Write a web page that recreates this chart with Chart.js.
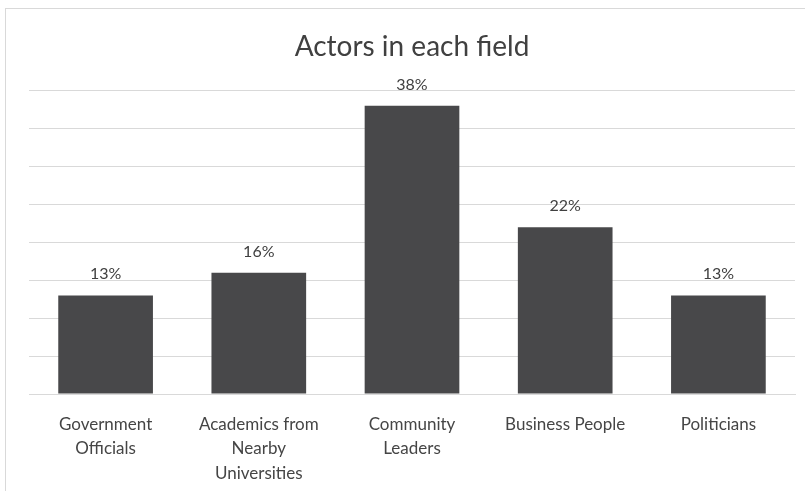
<!DOCTYPE html>
<html>
<head>
<meta charset="utf-8">
<script src="https://cdn.jsdelivr.net/npm/chart.js@4.4.1/dist/chart.umd.min.js"></script>
<style>
  body { margin: 0; background: #fff; }
  #frame {
    position: absolute; left: 5px; top: 8px; width: 900px; height: 600px;
    border-left: 1px solid #d9d9d9; border-top: 1px solid #d9d9d9;
  }
  #wrap { position: absolute; left: 0; top: 0; width: 805px; height: 491px; }
</style>
</head>
<body>
<div id="frame"></div>
<div id="wrap"><canvas id="myChart"></canvas></div>
<script>
// categories and shares (percent)
const fields = [
  ["Government", "Officials"],
  ["Academics from", "Nearby", "Universities"],
  ["Community", "Leaders"],
  "Business People",
  "Politicians"
];
const shares = [13, 16, 38, 22, 13];
const yTicks = [0, 5, 10, 15, 20, 25, 30, 35, 40];

const fontFam = "Lato, 'Open Sans', sans-serif";

// writes "NN%" above each bar
const valueLabels = {
  id: 'valueLabels',
  afterDatasetsDraw(chart) {
    const ctx = chart.ctx;
    const meta = chart.getDatasetMeta(0);
    ctx.save();
    ctx.font = '16px ' + fontFam;
    ctx.fillStyle = '#404040';
    ctx.textAlign = 'center';
    ctx.textBaseline = 'alphabetic';
    meta.data.forEach((bar, i) => {
      ctx.fillText(shares[i] + '%', bar.x, bar.y - 16);
    });
    ctx.restore();
  }
};

const ctx = document.getElementById('myChart');
new Chart(ctx, {
  type: 'bar',
  data: {
    labels: fields,
    datasets: [{
      data: shares,
      backgroundColor: '#48484a',
      borderWidth: 0,
      categoryPercentage: 0.618,
      barPercentage: 1
    }]
  },
  options: {
    responsive: true,
    maintainAspectRatio: false,
    animation: false,
    layout: { padding: { left: 29, right: 10, top: 0, bottom: 0 } },
    plugins: {
      legend: { display: false },
      tooltip: { enabled: false },
      title: {
        display: true,
        text: 'Actors in each field',
        color: '#404040',
        font: { family: fontFam, size: 28, weight: '400', lineHeight: 1.2 },
        padding: { top: 30, bottom: 27 }
      }
    },
    scales: {
      x: {
        grid: { display: false },
        border: { color: '#d9d9d9', width: 1 },
        ticks: {
          color: '#454545',
          font: { family: fontFam, size: 17, lineHeight: 1.45 },
          maxRotation: 0,
          autoSkip: false,
          padding: 10
        },
        afterFit(scale) { scale.height = 97; }
      },
      y: {
        min: yTicks[0],
        max: yTicks[yTicks.length - 1],
        afterBuildTicks(scale) { scale.ticks = yTicks.map(v => ({ value: v })); },
        grid: { color: '#d9d9d9', drawTicks: false },
        border: { display: false },
        ticks: { display: false },
        afterFit(scale) { scale.width = 0; }
      }
    }
  },
  plugins: [valueLabels]
});
</script>
</body>
</html>
